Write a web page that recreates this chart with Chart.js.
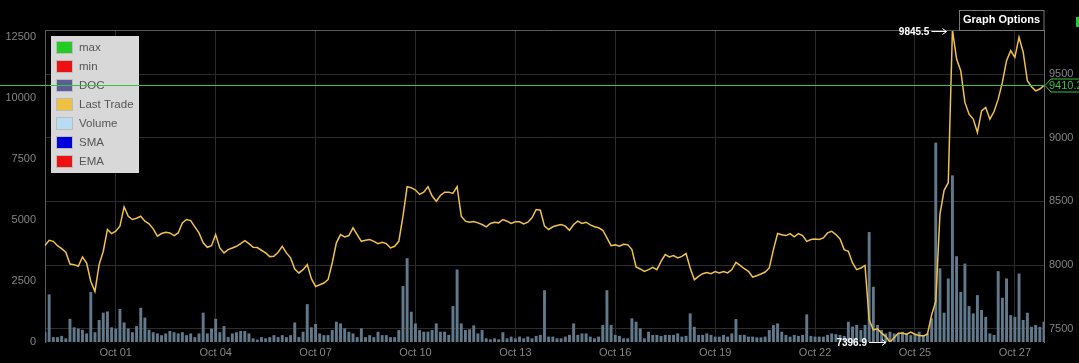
<!DOCTYPE html>
<html>
<head>
<meta charset="utf-8">
<script src="https://cdn.jsdelivr.net/npm/chart.js@4.4.0/dist/chart.umd.min.js"></script>
<style>
  html, body { margin: 0; padding: 0; background: #000; }
  #wrap { width: 1079px; height: 363px; position: relative; }
  canvas { display: block; }
</style>
</head>
<body>
<div id="wrap"><canvas id="c" width="1079" height="363"></canvas></div>
<script>
// ---- data (3-hour samples) ----
const lastTrade = [
  8153, 8195, 8187, 8153, 8130, 8101, 8009, 8004, 7991, 8064,
  8017, 7872, 7794, 8004, 8109, 8280, 8248, 8266, 8306, 8458,
  8384, 8358, 8368, 8384, 8345, 8324, 8285, 8227, 8248, 8258,
  8253, 8232, 8253, 8332, 8358, 8350, 8301, 8253, 8175, 8140,
  8153, 8240, 8135, 8096, 8122, 8135, 8148, 8169, 8193,
  8169, 8140, 8138, 8117, 8096, 8067, 8069, 8101, 8148, 8096,
  8057, 7970, 7939, 7965, 8004, 7894, 7833, 7846, 7860, 7886,
  8017, 8175, 8240, 8222, 8232, 8293, 8240, 8187, 8195, 8201,
  8187, 8169, 8180, 8169, 8135, 8148, 8187, 8384, 8616, 8608,
  8589, 8555, 8573, 8616, 8542, 8502, 8547, 8573,
  8573, 8563, 8616, 8384, 8345, 8337, 8343, 8332, 8319, 8301,
  8327, 8337, 8332, 8358, 8345, 8327, 8340, 8340, 8324, 8337,
  8371, 8437, 8431, 8306, 8280, 8301, 8311, 8319, 8306, 8274,
  8319, 8345, 8327, 8337, 8316, 8301, 8293, 8274, 8214, 8153,
  8159, 8148, 8164, 8161, 8122, 7986, 7970, 7951,
  7965, 7983, 7965, 8030, 8083, 8064, 8075, 8057, 8069, 8091,
  7978, 7886, 7912, 7933, 7943, 7933, 7949, 7939, 7949, 7939,
  7965, 8022, 7998, 7972, 7951, 7907, 7917, 7931, 7946, 7978,
  8122, 8248, 8238, 8232, 8248, 8222, 8248, 8232, 8187, 8201,
  8206, 8201, 8214, 8253, 8266, 8240, 8206, 8122,
  8109, 8017, 7965, 7978, 7998, 7570, 7492, 7500, 7466, 7439,
  7396.9, 7431, 7466, 7466, 7458, 7474, 7458, 7447, 7445, 7458,
  7610, 7715, 8398, 8587, 8647, 9845.5, 9618, 9526, 9277, 9185,
  9146, 9041, 9211, 9238, 9146, 9206, 9303, 9435, 9605, 9683,
  9631, 9789, 9671, 9447, 9400, 9368, 9382, 9410.2
];
const volume = [
  400, 1950, 200, 200, 250, 150, 950, 600, 550, 500,
  350, 2050, 400, 900, 1200, 1250, 600, 550, 1350, 800,
  550, 400, 650, 1400, 1000, 500, 400, 350, 280, 350,
  450, 400, 350, 400, 280, 350, 200, 350, 1200, 350,
  550, 950, 400, 650, 200, 350, 400, 450, 450,
  350, 150, 100, 200, 150, 200, 280, 200, 280, 200,
  280, 800, 200, 420, 1550, 600, 740, 350, 280, 280,
  490, 830, 760, 560, 420, 350, 200, 560, 200, 280,
  200, 420, 280, 280, 200, 200, 490, 2290, 3430, 1240,
  760, 490, 420, 420, 490, 760, 420, 420,
  290, 1470, 2970, 760, 490, 520, 680, 350, 490, 150,
  110, 150, 110, 400, 150, 220, 150, 220, 150, 220,
  150, 250, 290, 2120, 220, 220, 150, 150, 220, 290,
  760, 290, 350, 350, 220, 150, 220, 700, 2120, 700,
  290, 250, 150, 150, 970, 830, 560, 150,
  420, 290, 290, 250, 290, 290, 290, 350, 220, 250,
  1170, 620, 290, 290, 350, 290, 220, 220, 290, 220,
  350, 940, 290, 290, 220, 220, 190, 190, 220, 490,
  690, 760, 420, 290, 220, 290, 250, 290, 1130, 250,
  220, 220, 220, 290, 350, 320, 290, 250,
  830, 630, 700, 490, 700, 4500, 2260, 700, 490, 350,
  420, 350, 350, 420, 350, 280, 350, 420, 280, 350,
  970, 8160, 3020, 1200, 2600, 6820, 3510, 2050, 3210, 1470,
  1170, 1920, 1310, 1030, 350, 290, 2900, 1810, 2600, 1100,
  1030, 2800, 900, 1200, 620, 700, 620, 830
];
const tickIdx  = [17, 41, 65, 89, 113, 137, 161, 185, 209, 233];
const tickText = ['Oct 01','Oct 04','Oct 07','Oct 10','Oct 13','Oct 16','Oct 19','Oct 22','Oct 25','Oct 27'];
const volumeTicks = [0, 2500, 5000, 7500, 10000, 12500];
const priceTicks  = [7500, 8000, 8500, 9000, 9500];
const legendNames  = ['max', 'min', 'DOC', 'Last Trade', 'Volume', 'SMA', 'EMA'];
const legendColors = ['#22cc22', '#ee1111', '#5c5c96', '#f0c040', '#b8dcf4', '#0000dd', '#ee1111'];
const volumeMax = 12770;

// category labels: 3-hour steps
const startMs = Date.UTC(2017, 8, 28, 21);
const categories = lastTrade.map((_, i) => new Date(startMs + i * 3 * 3600 * 1000).toISOString());

const priceMin = Math.min(...lastTrade);
const priceMax = Math.max(...lastTrade);
const priceLast = lastTrade[lastTrade.length - 1];

Chart.defaults.font.family = 'Arial, "Liberation Sans", sans-serif';
const tickColor = '#858585';
const gridColor = '#2c2c2c';

const overlay = {
  id: 'overlay',
  afterDatasetsDraw(chart) {
    const ctx = chart.ctx, ca = chart.chartArea;
    const xs = chart.scales.x, y1 = chart.scales.y1;
    ctx.save();
    // top frame line
    ctx.strokeStyle = '#5a5a5a'; ctx.lineWidth = 1;
    ctx.beginPath(); ctx.moveTo(ca.left, ca.top + 0.5); ctx.lineTo(ca.right, ca.top + 0.5); ctx.stroke();

    // legend box
    ctx.fillStyle = '#d8d8d8';
    ctx.fillRect(51, 36, 88, 137);
    ctx.font = '11.5px Arial, "Liberation Sans", sans-serif';
    ctx.textBaseline = 'middle'; ctx.textAlign = 'left';
    legendNames.forEach((n, k) => {
      const yy = 42 + 19 * k;
      ctx.fillStyle = legendColors[k];
      ctx.fillRect(57, yy, 15, 11);
      ctx.strokeStyle = '#bcbcbc';
      ctx.strokeRect(56.5, yy - 0.5, 16, 12);
      ctx.fillStyle = '#555';
      ctx.fillText(n, 79, yy + 6);
    });

    // last price line + label
    const ly = Math.round(y1.getPixelForValue(priceLast)) + 0.5;
    ctx.strokeStyle = '#3cc23c'; ctx.lineWidth = 1;
    ctx.beginPath(); ctx.moveTo(0, ly); ctx.lineTo(ca.right, ly); ctx.stroke();
    ctx.fillStyle = '#000';
    ctx.beginPath();
    ctx.moveTo(ca.right + 1, ly);
    ctx.lineTo(ca.right + 7, ly - 6.5);
    ctx.lineTo(1090, ly - 6.5);
    ctx.lineTo(1090, ly + 6.5);
    ctx.lineTo(ca.right + 7, ly + 6.5);
    ctx.closePath(); ctx.fill(); ctx.stroke();
    ctx.fillStyle = '#3cc23c';
    ctx.font = '11px Arial, "Liberation Sans", sans-serif';
    ctx.fillText(priceLast.toFixed(1), ca.right + 5, ly + 0.5);

    // max / min annotations
    const drawNote = (idx, val, dy, gap) => {
      const px = xs.getPixelForValue(idx);
      const py = y1.getPixelForValue(val) + dy;
      const x1 = px - 21, x2 = px - gap;
      ctx.strokeStyle = '#fff'; ctx.fillStyle = '#fff'; ctx.lineWidth = 1;
      ctx.beginPath(); ctx.moveTo(x1, py); ctx.lineTo(x2, py); ctx.stroke();
      ctx.beginPath(); ctx.moveTo(x2 - 4, py - 3); ctx.lineTo(x2, py); ctx.lineTo(x2 - 4, py + 3); ctx.stroke();
      ctx.font = 'bold 10px Arial, "Liberation Sans", sans-serif';
      ctx.textAlign = 'right';
      ctx.fillText(val.toFixed(1), px - 23, py + 0.5);
    };
    drawNote(lastTrade.indexOf(priceMax), priceMax, 1.5, 6);
    drawNote(lastTrade.indexOf(priceMin), priceMin, 0.5, 4);

    // Graph Options button
    ctx.fillStyle = '#000';
    ctx.fillRect(959, 10, 85, 20);
    ctx.strokeStyle = '#777';
    ctx.strokeRect(959.5, 10.5, 84.5, 20);
    ctx.fillStyle = '#fff';
    ctx.font = 'bold 11px Arial, "Liberation Sans", sans-serif';
    ctx.textAlign = 'center';
    ctx.fillText('Graph Options', 1001.5, 20);

    // small green marker top-right
    ctx.fillStyle = '#22cc22';
    ctx.fillRect(1076, 17, 6, 10);
    ctx.restore();
  }
};

new Chart(document.getElementById('c'), {
  data: {
    labels: categories,
    datasets: [
      { type: 'line', label: 'Last Trade', data: lastTrade, yAxisID: 'y1',
        borderColor: '#f0c24c', borderWidth: 1.5, pointRadius: 0, tension: 0 },
      { type: 'bar', label: 'Volume', data: volume, yAxisID: 'y',
        backgroundColor: '#62798b', barPercentage: 0.7, categoryPercentage: 1 }
    ]
  },
  options: {
    responsive: false,
    animation: false,
    layout: { padding: { top: 30, left: 0, right: 0, bottom: 0 } },
    plugins: { legend: { display: false }, tooltip: { enabled: false } },
    scales: {
      x: {
        type: 'category', offset: false,
        grid: { color: gridColor, drawTicks: false, offset: false },
        border: { display: false },
        ticks: {
          autoSkip: false, maxRotation: 0, padding: 4, color: tickColor,
          font: { size: 11 },
          callback: (v) => tickText[tickIdx.indexOf(v)]
        },
        afterBuildTicks: (s) => { s.ticks = tickIdx.map(v => ({ value: v })); },
        afterFit: (s) => { s.height = 21; }
      },
      y: {
        position: 'left', min: 0, max: volumeMax,
        grid: { display: false, drawTicks: false },
        border: { display: true, color: '#5a5a5a' },
        ticks: { color: tickColor, padding: 9, font: { size: 11 }, callback: (v) => String(v) },
        afterBuildTicks: (s) => { s.ticks = volumeTicks.map(v => ({ value: v })); },
        afterFit: (s) => { s.width = 45; }
      },
      y1: {
        position: 'right', min: priceMin, max: priceMax,
        grid: { color: gridColor, drawTicks: false },
        border: { display: true, color: '#6a6a6a' },
        ticks: { color: tickColor, padding: 5, font: { size: 11 }, callback: (v) => String(v) },
        afterBuildTicks: (s) => { s.ticks = priceTicks.map(v => ({ value: v })); },
        afterFit: (s) => { s.width = 35; }
      }
    }
  },
  plugins: [overlay]
});
</script>
</body>
</html>
